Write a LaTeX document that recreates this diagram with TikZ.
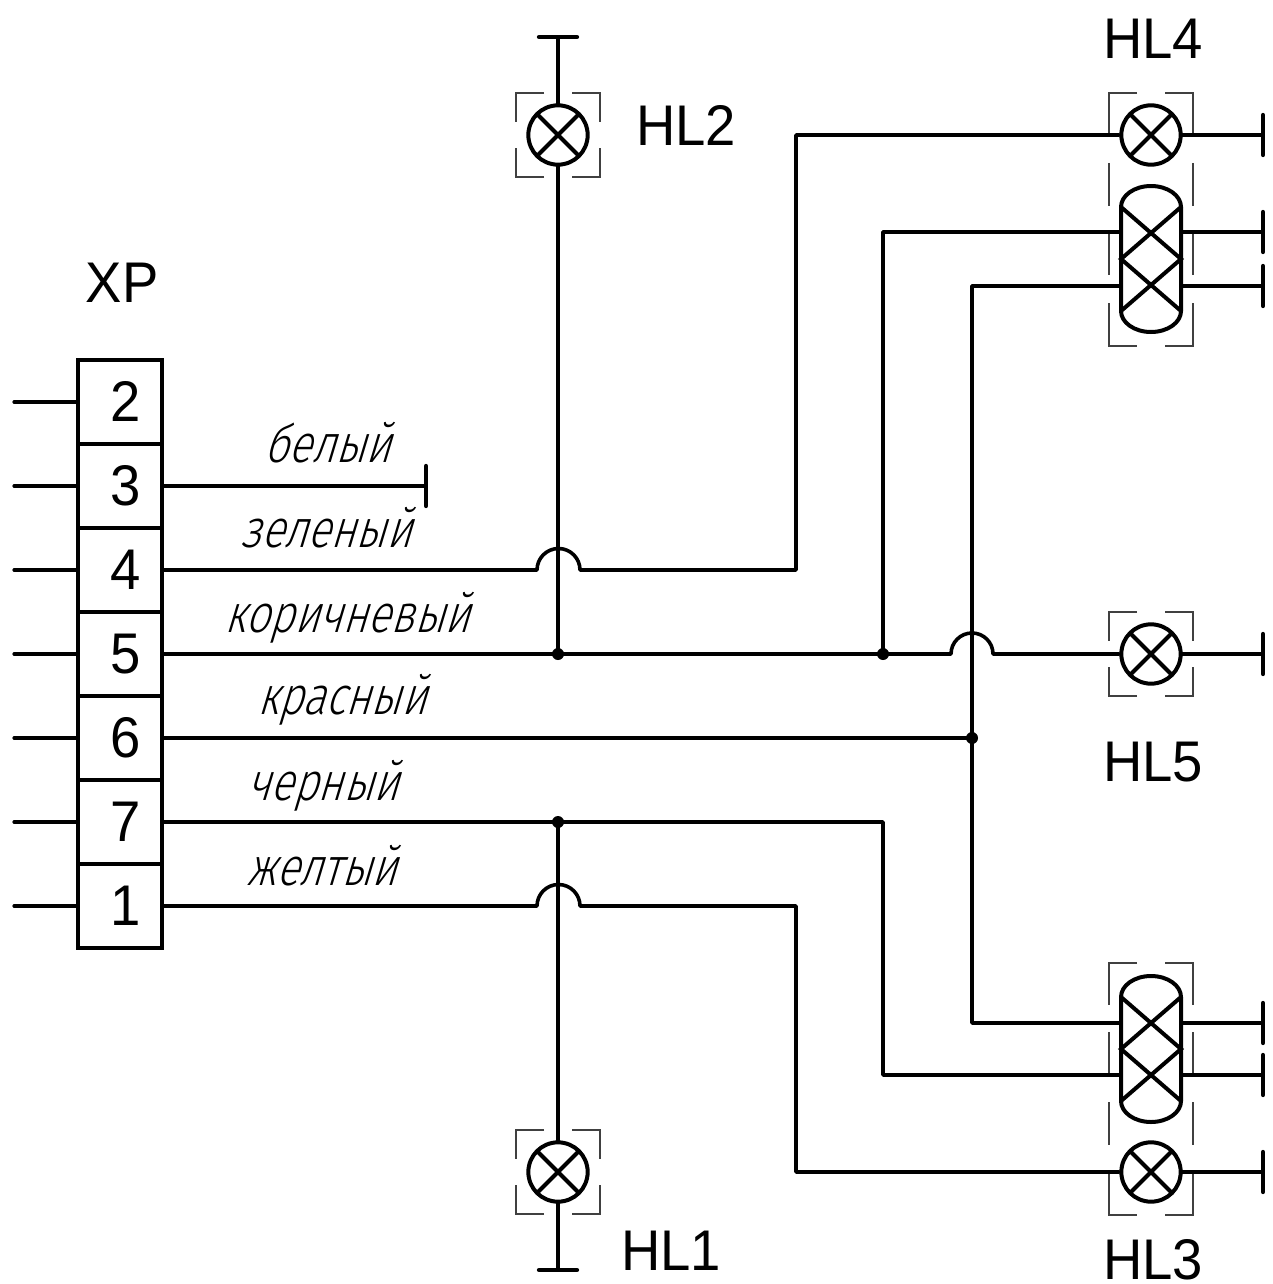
\documentclass[tikz,border=0pt]{standalone}
\usepackage{fontspec}
\setmainfont[FakeStretch=0.95]{Liberation Sans}
\newfontfamily\gost[FakeSlant=0.3,FakeStretch=0.8]{Fira Sans Light}
\tikzset{
  x=0.75pt,y=-0.75pt,
  wire/.style={line width=2.7pt,black,line cap=round,line join=round},
  thinwire/.style={line width=2.4pt,black,line cap=round,line join=round},
  bracket/.style={line width=0.9pt,black!75},
  term/.style={line width=3.2pt,black,line cap=round},
  lampline/.style={line width=3pt,black},
  lamp/.style={circle,draw=black,line width=3pt,fill=white,minimum size=44.5pt,inner sep=0pt,
    path picture={\draw[lampline] (path picture bounding box.north west)--(path picture bounding box.south east)
      (path picture bounding box.north east)--(path picture bounding box.south west);}},
  dot/.style={circle,fill=black,inner sep=0pt,minimum size=9pt},
  cell/.style={draw=black,line width=2.5pt,minimum width=63pt,minimum height=63pt,inner sep=0pt,
    font=\fontsize{43}{43}\selectfont,text height=29.5pt,text depth=0pt},
  lab/.style={inner sep=0pt,anchor=base,font=\fontsize{43}{43}\selectfont},
  colorlab/.style={inner sep=0pt,anchor=base,font=\gost\fontsize{40}{40}\selectfont},
}
\newcommand{\lampbr}[2]{%
  \draw[bracket] (#1-14,#2-42)--(#1-42,#2-42)--(#1-42,#2-13)
    (#1+14,#2-42)--(#1+42,#2-42)--(#1+42,#2-13)
    (#1-14,#2+42)--(#1-42,#2+42)--(#1-42,#2+13)
    (#1+14,#2+42)--(#1+42,#2+42)--(#1+42,#2+13);}
\newcommand{\twinlamp}[2]{%
  \draw[lampline,line join=round] (#1-30,#2-52) arc[x radius=30,y radius=21,start angle=180,end angle=360]
    --(#1+30,#2+52) arc[x radius=30,y radius=21,start angle=0,end angle=180] --cycle;
  \draw[lampline,line cap=round] (#1-30,#2-52)--(#1+30,#2)--(#1-30,#2+52)
    (#1+30,#2-52)--(#1-30,#2)--(#1+30,#2+52);}
\newcommand{\hterm}[1]{\draw[term] (#1) ++(-19,0) -- ++(38,0);}
\newcommand{\vterm}[1]{\draw[term] (#1) ++(0,-20) -- ++(0,40);}
\begin{document}
\begin{tikzpicture}
\useasboundingbox (0,0) rectangle (1273,1284);

% Connector cells
\node[cell] (c2) at (120,402) {\hspace*{9pt}2};
\node[cell] (c3) at (120,486) {\hspace*{9pt}3};
\node[cell] (c4) at (120,570) {\hspace*{9pt}4};
\node[cell] (c5) at (120,654) {\hspace*{9pt}5};
\node[cell] (c6) at (120,738) {\hspace*{9pt}6};
\node[cell] (c7) at (120,822) {\hspace*{9pt}7};
\node[cell] (c1) at (120,906) {\hspace*{9pt}1};
\foreach \n/\y in {2/402,3/486,4/570,5/654,6/738,7/822,1/906}{
  \coordinate (f\n) at (14,\y);
  \draw[thinwire] (f\n)--(c\n.west);
}

% Coordinates
\coordinate (t3) at (426,486);
\coordinate (tHLtwo) at (558,37);
\coordinate (tHLone) at (558,1270);
\coordinate (tA) at (1263,135);
\coordinate (tB) at (1263,232);
\coordinate (tC) at (1263,286);
\coordinate (tD) at (1263,654);
\coordinate (tE) at (1263,1023);
\coordinate (tF) at (1263,1075);
\coordinate (tG) at (1263,1172);
\coordinate (j5a) at (558,654);
\coordinate (j5b) at (883,654);
\coordinate (j6) at (972,738);
\coordinate (j7) at (558,822);

% Brackets
\lampbr{558}{135}
\lampbr{558}{1172}
\lampbr{1151}{654}
\draw[bracket] (1137,93)--(1109,93)--(1109,134) (1165,93)--(1193,93)--(1193,134)
  (1109,163)--(1109,206) (1193,163)--(1193,206)
  (1109,232)--(1109,275) (1193,232)--(1193,275)
  (1109,303)--(1109,346)--(1137,346) (1193,303)--(1193,346)--(1165,346);
\draw[bracket] (1137,963)--(1109,963)--(1109,1005) (1165,963)--(1193,963)--(1193,1005)
  (1109,1032)--(1109,1075) (1193,1032)--(1193,1075)
  (1109,1102)--(1109,1145) (1193,1102)--(1193,1145)
  (1109,1173)--(1109,1215)--(1137,1215) (1193,1173)--(1193,1215)--(1165,1215);

% Lamps
\node[lamp] (HLtwo) at (558,135) {};
\node[lamp] (HLone) at (558,1172) {};
\node[lamp] (HLfour) at (1151,135) {};
\node[lamp] (HLfive) at (1151,654) {};
\node[lamp] (HLthree) at (1151,1172) {};
\twinlamp{1151}{259}
\twinlamp{1151}{1049}
\coordinate (u1) at (1121,232);
\coordinate (u2) at (1121,286);
\coordinate (u3) at (1181,232);
\coordinate (u4) at (1181,286);
\coordinate (l1) at (1121,1023);
\coordinate (l2) at (1121,1075);
\coordinate (l3) at (1181,1023);
\coordinate (l4) at (1181,1075);

% Wires
\draw[wire] (c3.east)--(t3);
\draw[wire] (tHLtwo)--(HLtwo.north);
\draw[wire] (HLtwo.south)--(j5a);
\draw[wire] (j7)--(HLone.north);
\draw[wire] (HLone.south)--(tHLone);
\draw[wire] (c4.east)--(537,570) arc[radius=21.5,start angle=180,end angle=360]--(796,570)--(796,135)--(HLfour.west);
\draw[wire] (c5.east)--(951,654) arc[radius=21,start angle=180,end angle=360]--(HLfive.west);
\draw[wire] (j5b)--(883,232)--(u1);
\draw[wire] (c6.east)--(j6);
\draw[wire] (u2)--(972,286)--(972,1023)--(l1);
\draw[wire] (c7.east)--(883,822)--(883,1075)--(l2);
\draw[wire] (c1.east)--(537,906) arc[radius=21.5,start angle=180,end angle=360]--(796,906)--(796,1172)--(HLthree.west);
\draw[wire] (HLfour.east)--(tA);
\draw[wire] (u3)--(tB);
\draw[wire] (u4)--(tC);
\draw[wire] (HLfive.east)--(tD);
\draw[wire] (l3)--(tE);
\draw[wire] (l4)--(tF);
\draw[wire] (HLthree.east)--(tG);

% Terminals
\vterm{t3}
\hterm{tHLtwo}
\hterm{tHLone}
\vterm{tA}\vterm{tB}\vterm{tC}\vterm{tD}\vterm{tE}\vterm{tF}\vterm{tG}

% Junction dots
\node[dot] (d1) at (j5a) {};
\node[dot] (d2) at (j5b) {};
\node[dot] (d3) at (j6) {};
\node[dot] (d4) at (j7) {};

% Labels
\node[lab] (xp) at (122,302) {XP};
\node[lab] (lHL4) at (1153,59) {HL4};
\node[lab] (lHL2) at (686,146) {HL2};
\node[lab] (lHL5) at (1153,781) {HL5};
\node[lab] (lHL1) at (671,1270) {HL1};
\node[lab] (lHL3) at (1153,1279) {HL3};
\node[colorlab] (w3) at (328,462) {белый};
\node[colorlab] (w4) at (326,547) {зеленый};
\node[colorlab] (w5) at (347,632) {коричневый};
\node[colorlab] (w6) at (342,714) {красный};
\node[colorlab] (w7) at (323,800) {черный};
\node[colorlab] (w1) at (322,885) {желтый};
\end{tikzpicture}
\end{document}
